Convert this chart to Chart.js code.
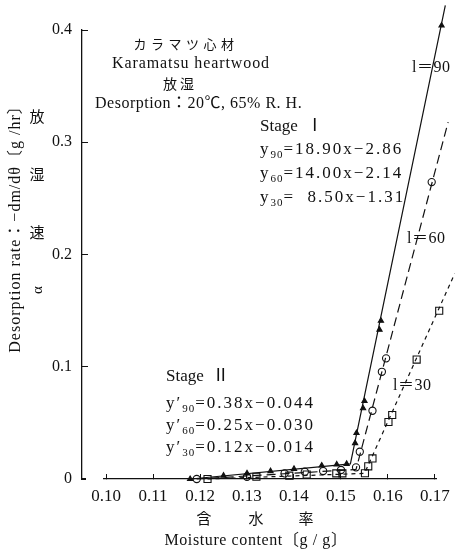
<!DOCTYPE html>
<html>
<head>
<meta charset="utf-8">
<title>カラマツ心材 放湿速度</title>
<script src="https://cdn.jsdelivr.net/npm/chart.js@4.4.1/dist/chart.umd.min.js"></script>
<style>
  html, body { margin: 0; padding: 0; background: #fff; }
  #wrap { position: relative; width: 455px; height: 551px; overflow: hidden; }
  #rateChart { position: absolute; left: 0; top: 0; }
  .t {
    position: absolute; white-space: nowrap; line-height: 1; color: #111;
    font-family: "Liberation Serif", "Noto Sans CJK JP", serif;
    transform: translateY(-50%);
  }
  .t.c { transform: translate(-50%, -50%); }
  .cjk { font-family: "Noto Sans CJK JP", sans-serif; }
  .eq { font-size: 17px; letter-spacing: 2px; }
  .eq sub { font-size: 11px; vertical-align: -4px; line-height: 0; letter-spacing: 1px; }
  .rot { transform: translate(-50%, -50%) rotate(-90deg); }
  .mask { position: absolute; background: #fff; }
</style>
</head>
<body>
<div id="wrap">
  <canvas id="rateChart" width="455" height="551"></canvas>

  <!-- x axis is broken after the origin and ends at 0.17 -->
  <div class="mask" style="left:86px; top:476px; width:17px; height:6px;"></div>
  <div class="mask" style="left:437px; top:476px; width:18px; height:6px;"></div>

  <div class="t c cjk" style="left:186px; top:43px; font-size:13px; letter-spacing:4.5px;">カラマツ心材</div>
  <div class="t c" style="left:191px; top:63px; font-size:16px; letter-spacing:0.9px;">Karamatsu heartwood</div>
  <div class="t c cjk" style="left:180px; top:83px; font-size:14px; letter-spacing:3px;">放湿</div>
  <div class="t" style="left:95px; top:103px; font-size:16px; letter-spacing:0.5px;">Desorption：20℃, 65% R. H.</div>

  <div class="t" style="left:260px; top:125px; font-size:17px;">Stage&nbsp;&nbsp;Ⅰ</div>
  <div class="t eq" style="left:260px; top:148px;">y<sub>90</sub>=18.90x−2.86</div>
  <div class="t eq" style="left:260px; top:172px;">y<sub>60</sub>=14.00x−2.14</div>
  <div class="t eq" style="left:260px; top:196px;">y<sub>30</sub>=&nbsp;&nbsp;8.50x−1.31</div>

  <div class="t" style="left:166px; top:375px; font-size:17px;">Stage&nbsp;&nbsp;Ⅱ</div>
  <div class="t eq" style="left:166px; top:402px;">y′<sub>90</sub>=0.38x−0.044</div>
  <div class="t eq" style="left:166px; top:424px;">y′<sub>60</sub>=0.25x−0.030</div>
  <div class="t eq" style="left:166px; top:446px;">y′<sub>30</sub>=0.12x−0.014</div>

  <div class="t" style="left:412px; top:67px; font-size:16px; letter-spacing:0.5px;">l＝90</div>
  <div class="t" style="left:407px; top:238px; font-size:16px; letter-spacing:0.5px;">l＝60</div>
  <div class="t" style="left:393px; top:385px; font-size:16px; letter-spacing:0.5px;">l＝30</div>

  <div class="t c cjk" style="left:204px; top:517px; font-size:15px;">含</div>
  <div class="t c cjk" style="left:256px; top:517px; font-size:15px;">水</div>
  <div class="t c cjk" style="left:306px; top:517px; font-size:15px;">率</div>
  <div class="t c" style="left:256px; top:540px; font-size:16px; letter-spacing:0.6px;">Moisture content〔g / g〕</div>

  <div class="t rot" style="left:15px; top:225px; font-size:16px; letter-spacing:1px;">Desorption rate：−dm/dθ〔g /hr〕</div>
  <div class="t c cjk" style="left:37px; top:115px; font-size:15px;">放</div>
  <div class="t c cjk" style="left:37px; top:173px; font-size:15px;">湿</div>
  <div class="t c cjk" style="left:37px; top:231px; font-size:15px;">速</div>
  <div class="t rot" style="left:37px; top:290px; font-size:15px;">α</div>
</div>
<script>
// Axis ticks and range
const xTicks = [0.10, 0.11, 0.12, 0.13, 0.14, 0.15, 0.16, 0.17];
const yTicks = [0, 0.1, 0.2, 0.3, 0.4];

// l=90 (triangles), moisture content g/g vs rate g/hr
const tri90X = [0.1179, 0.1250, 0.1300, 0.1350, 0.1400, 0.1459, 0.1491, 0.1512,
                0.1530, 0.1533, 0.1547, 0.1550, 0.1582, 0.1585, 0.1714];
const tri90Y = [0.000, 0.003, 0.005, 0.007, 0.009, 0.012, 0.013, 0.0135,
                0.032, 0.041, 0.063, 0.0695, 0.133, 0.141, 0.404];

// l=60 (circles)
const cir60X = [0.1193, 0.1300, 0.1380, 0.1423, 0.1462, 0.1500,
                0.1532, 0.1540, 0.1567, 0.1587, 0.1596, 0.1693];
const cir60Y = [0.000, 0.002, 0.005, 0.0065, 0.0071, 0.008,
                0.0104, 0.0243, 0.0608, 0.0955, 0.1075, 0.2645];

// l=30 (squares)
const sq30X = [0.1216, 0.1320, 0.1390, 0.1427, 0.1490, 0.1503,
               0.1551, 0.1558, 0.1567, 0.1601, 0.1609, 0.1661, 0.1709];
const sq30Y = [0.000, 0.002, 0.003, 0.004, 0.005, 0.005,
               0.0051, 0.0113, 0.0183, 0.0508, 0.0570, 0.1064, 0.1499];

// the drawn regression lines: start, stage II/I knee, end
const line90X = [0.1180, 0.1520, 0.1722];
const line90Y = [0.000, 0.0135, 0.422];
const line60X = [0.1193, 0.1532, 0.1728];
const line60Y = [0.000, 0.0085, 0.318];
const line30X = [0.1216, 0.1550, 0.1742];
const line30Y = [0.000, 0.005, 0.183];

const ink = '#111';
const serif = '"Liberation Serif", "Noto Sans CJK JP", serif';

function pts(xs, ys) {
    return xs.map((v, i) => ({ x: v, y: ys[i] }));
}

const lineStyle = (data, dash) => ({
    data: data,
    showLine: true,
    borderColor: ink,
    borderWidth: 1.2,
    borderDash: dash,
    pointRadius: 0,
    fill: false,
    clip: false
});

const markStyle = (data, style, radius, filled) => ({
    data: data,
    showLine: false,
    pointStyle: style,
    pointRadius: radius,
    pointBorderWidth: 1.1,
    pointBorderColor: ink,
    pointBackgroundColor: filled ? ink : 'rgba(0,0,0,0)',
    clip: false
});

const chart = new Chart(document.getElementById('rateChart'), {
    type: 'scatter',
    data: {
        datasets: [
            lineStyle(pts(line90X, line90Y), []),
            lineStyle(pts(line60X, line60Y), [9, 5]),
            lineStyle(pts(line30X, line30Y), [4, 4]),
            markStyle(pts(tri90X, tri90Y), 'triangle', 3, true),
            markStyle(pts(cir60X, cir60Y), 'circle', 3.6, false),
            markStyle(pts(sq30X, sq30Y), 'rect', 5, false)
        ]
    },
    options: {
        responsive: false,
        animation: false,
        layout: { autoPadding: false, padding: { left: 0, right: 0, top: 30, bottom: 0 } },
        plugins: {
            legend: { display: false },
            tooltip: { enabled: false }
        },
        scales: {
            x: {
                type: 'linear',
                min: 0.09489,
                max: 0.17426,
                afterBuildTicks: s => { s.ticks = xTicks.map(v => ({ value: v })); },
                afterFit: s => { s.height = 72; s.paddingLeft = 0; s.paddingRight = 0; },
                grid: { display: true, drawOnChartArea: false, tickLength: -5, color: ink },
                border: { display: true, color: ink, width: 1.3 },
                ticks: {
                    callback: v => v.toFixed(2),
                    color: ink,
                    padding: 12,
                    maxRotation: 0,
                    font: { family: serif, size: 17 }
                }
            },
            y: {
                type: 'linear',
                min: 0,
                max: 0.4,
                afterBuildTicks: s => { s.ticks = yTicks.map(v => ({ value: v })); },
                afterFit: s => { s.width = 82; s.paddingTop = 0; s.paddingBottom = 0; },
                grid: { display: true, drawOnChartArea: false, tickLength: -6, color: ink },
                border: { display: true, color: ink, width: 1.3 },
                ticks: {
                    callback: v => (v === 0 ? '0' : v.toFixed(1)),
                    color: ink,
                    padding: 16,
                    font: { family: serif, size: 16 }
                }
            }
        }
    }
});
</script>
</body>
</html>
